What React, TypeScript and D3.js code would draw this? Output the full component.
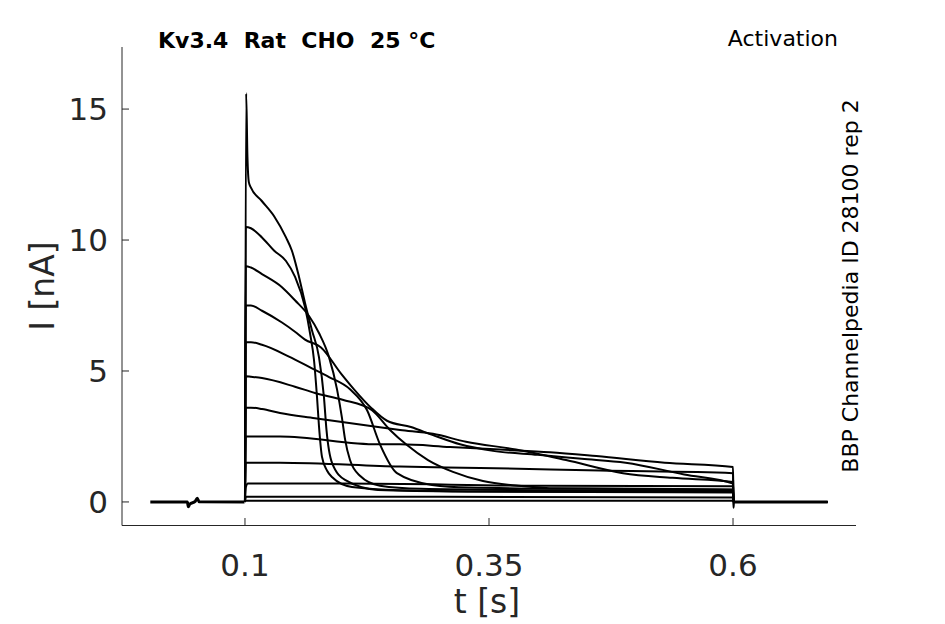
import * as React from 'react';
import * as d3 from 'd3';

// sweep currents [t (s), I (nA)]
const holding: [number, number][] = [
  [0.003, 0], [0.041, 0], [0.0419, -0.18], [0.0435, -0.08], [0.049, 0.02],
  [0.0511, 0.14], [0.053, 0.01], [0.0995, 0],
];

const sweeps: [number, number][][] = [
  [[0.1, 0], [0.1012, 15.6], [0.1025, 13.2], [0.104, 12.2], [0.1061, 12.0], [0.117, 11.5], [0.13, 10.9],
    [0.142, 10.1], [0.148, 9.6], [0.1553, 8.6], [0.1615, 7.6], [0.1686, 6.56], [0.1758, 5.53],
    [0.1809, 4.0], [0.1835, 2.75], [0.1891, 1.5], [0.2025, 0.84], [0.2363, 0.46], [0.33, 0.4],
    [0.45, 0.38], [0.6, 0.36]],
  [[0.1, 0], [0.1008, 10.5], [0.1061, 10.45], [0.1174, 10.1], [0.1297, 9.6], [0.142, 9.2],
    [0.1512, 8.6], [0.1615, 7.44], [0.1666, 6.45], [0.1707, 5.42], [0.1738, 4.0], [0.1758, 2.9],
    [0.1789, 1.72], [0.184, 1.2], [0.1891, 0.95], [0.2096, 0.57], [0.2588, 0.45], [0.356, 0.4],
    [0.6, 0.38]],
  [[0.1, 0], [0.1008, 9.0], [0.1061, 8.95], [0.1174, 8.7], [0.1379, 8.2], [0.1512, 7.7],
    [0.1656, 7.1], [0.1758, 6.45], [0.1861, 5.53], [0.1943, 4.3], [0.1994, 3.2], [0.2025, 2.4],
    [0.2076, 1.6], [0.2178, 1.0], [0.2383, 0.62], [0.28, 0.5], [0.4, 0.45], [0.6, 0.42]],
  [[0.1, 0], [0.1008, 7.5], [0.1061, 7.5], [0.1174, 7.3], [0.1379, 6.85], [0.1512, 6.5],
    [0.1615, 6.2], [0.1779, 5.9], [0.1984, 4.9], [0.2117, 4.3], [0.2291, 3.6], [0.2455, 3.1],
    [0.27, 2.86], [0.2926, 2.55], [0.3203, 2.2], [0.3541, 1.95], [0.4, 1.8], [0.445, 1.65],
    [0.49, 1.5], [0.55, 1.05], [0.6, 0.7]],
  [[0.1, 0], [0.1008, 6.1], [0.1061, 6.1], [0.1174, 6.0], [0.1451, 5.55], [0.1686, 5.1],
    [0.1861, 4.77], [0.2076, 4.3], [0.2251, 3.5], [0.2383, 2.2], [0.2557, 1.1], [0.2916, 0.65],
    [0.33, 0.55], [0.45, 0.5], [0.6, 0.47]],
  [[0.1, 0], [0.1008, 4.8], [0.1061, 4.78], [0.1174, 4.73], [0.1512, 4.4], [0.1717, 4.16],
    [0.2, 3.9], [0.2301, 3.5], [0.2486, 2.75], [0.265, 2.2], [0.2875, 1.6], [0.3131, 1.15],
    [0.3438, 0.8], [0.38, 0.62], [0.42, 0.52], [0.6, 0.48]],
  [[0.1, 0], [0.1008, 3.6], [0.1061, 3.6], [0.1174, 3.55], [0.1359, 3.4], [0.1717, 3.2],
    [0.2363, 2.86], [0.2588, 2.75], [0.2926, 2.6], [0.3264, 2.3], [0.3776, 2.0], [0.4289, 1.6],
    [0.4873, 1.1], [0.538, 0.92], [0.6, 0.76]],
  [[0.1, 0], [0.1008, 2.5], [0.1359, 2.5], [0.2363, 2.2], [0.2588, 2.2], [0.3101, 2.1],
    [0.3613, 2.0], [0.4125, 1.9], [0.46, 1.75], [0.53, 1.5], [0.6, 1.33]],
  [[0.1, 0], [0.1008, 1.5], [0.1359, 1.5], [0.2588, 1.35], [0.3408, 1.3], [0.4637, 1.2], [0.6, 1.1]],
  [[0.1, 0], [0.1008, 0.55], [0.103, 0.7], [0.2, 0.7], [0.4, 0.62], [0.6, 0.6]],
  [[0.1, 0], [0.101, 0.2], [0.3, 0.2], [0.6, 0.17]],
  [[0.1, 0], [0.101, 0.05], [0.6, 0.05]],
];

const stepOff: [number, number][] = [[0.6005, -0.22], [0.601, 0], [0.697, 0]];
const after: [number, number][] = [[0.6005, 0], [0.697, 0]];

const xTicks = [0.1, 0.35, 0.6];
const xTickLabels = ['0.1', '0.35', '0.6'];
const yTicks = [0, 5, 10, 15];
const yTickLabels = ['0', '5', '10', '15'];

const W = 945;
const H = 624;
const font = '"DejaVu Sans", sans-serif';

export default function App() {
  const x = d3.scaleLinear().domain([-0.026, 0.726]).range([122, 856]);
  const y = d3.scaleLinear().domain([-0.88, 17.37]).range([525, 47]);
  const line = d3
    .line<[number, number]>()
    .x(d => x(d[0]))
    .y(d => y(d[1]))
    .curve(d3.curveMonotoneX);

  const [x0, x1] = x.range();
  const [yb, yt] = y.range();

  return (
    <svg width={W} height={H} style={{ position: 'absolute', left: 0, top: 0 }}>
      <rect width={W} height={H} fill="white" />
      {/* traces */}
      <g fill="none" stroke="black" strokeWidth={2} strokeLinejoin="round">
        <path d={line(holding) || ''} strokeWidth={3} />
        {sweeps.map((s, i) => (
          <path key={i} d={line([...s, ...(i === 0 ? stepOff : after)]) || ''} />
        ))}
        <path d={line(after) || ''} strokeWidth={3} />
      </g>
      {/* axes */}
      <g stroke="#262626" strokeWidth={1} fill="none">
        <line x1={x0} x2={x0} y1={yt} y2={yb + 0.5} />
        <line x1={x0} x2={x1} y1={yb + 0.5} y2={yb + 0.5} />
        {xTicks.map(t => (
          <line key={t} x1={x(t)} x2={x(t)} y1={yb} y2={yb - 7} />
        ))}
        {yTicks.map(t => (
          <line key={t} x1={x0} x2={x0 + 7} y1={y(t)} y2={y(t)} />
        ))}
      </g>
      <g fontFamily={font} fill="#262626" fontSize={31}>
        {xTicks.map((t, i) => (
          <text key={t} x={x(t)} y={576} textAnchor="middle">
            {xTickLabels[i]}
          </text>
        ))}
        {yTicks.map((t, i) => (
          <text key={t} x={108} y={y(t)} textAnchor="end" dominantBaseline="central">
            {yTickLabels[i]}
          </text>
        ))}
        <text x={487} y={613} textAnchor="middle" fontSize={33}>
          t [s]
        </text>
        <text transform="translate(42,286) rotate(-90)" textAnchor="middle" dominantBaseline="central" fontSize={33}>
          I [nA]
        </text>
      </g>
      <text x={158} y={48} fontFamily={font} fontWeight="bold" fontSize={22} fill="black" style={{ whiteSpace: 'pre' }}>
        {'Kv3.4  Rat  CHO  25 °C'}
      </text>
      <text x={838} y={46} fontFamily={font} fontSize={22} fill="black" textAnchor="end">
        Activation
      </text>
      <text
        transform="translate(850,286) rotate(-90)"
        fontFamily={font}
        fontSize={22}
        fill="black"
        textAnchor="middle"
        dominantBaseline="central"
      >
        BBP Channelpedia ID 28100 rep 2
      </text>
    </svg>
  );
}
